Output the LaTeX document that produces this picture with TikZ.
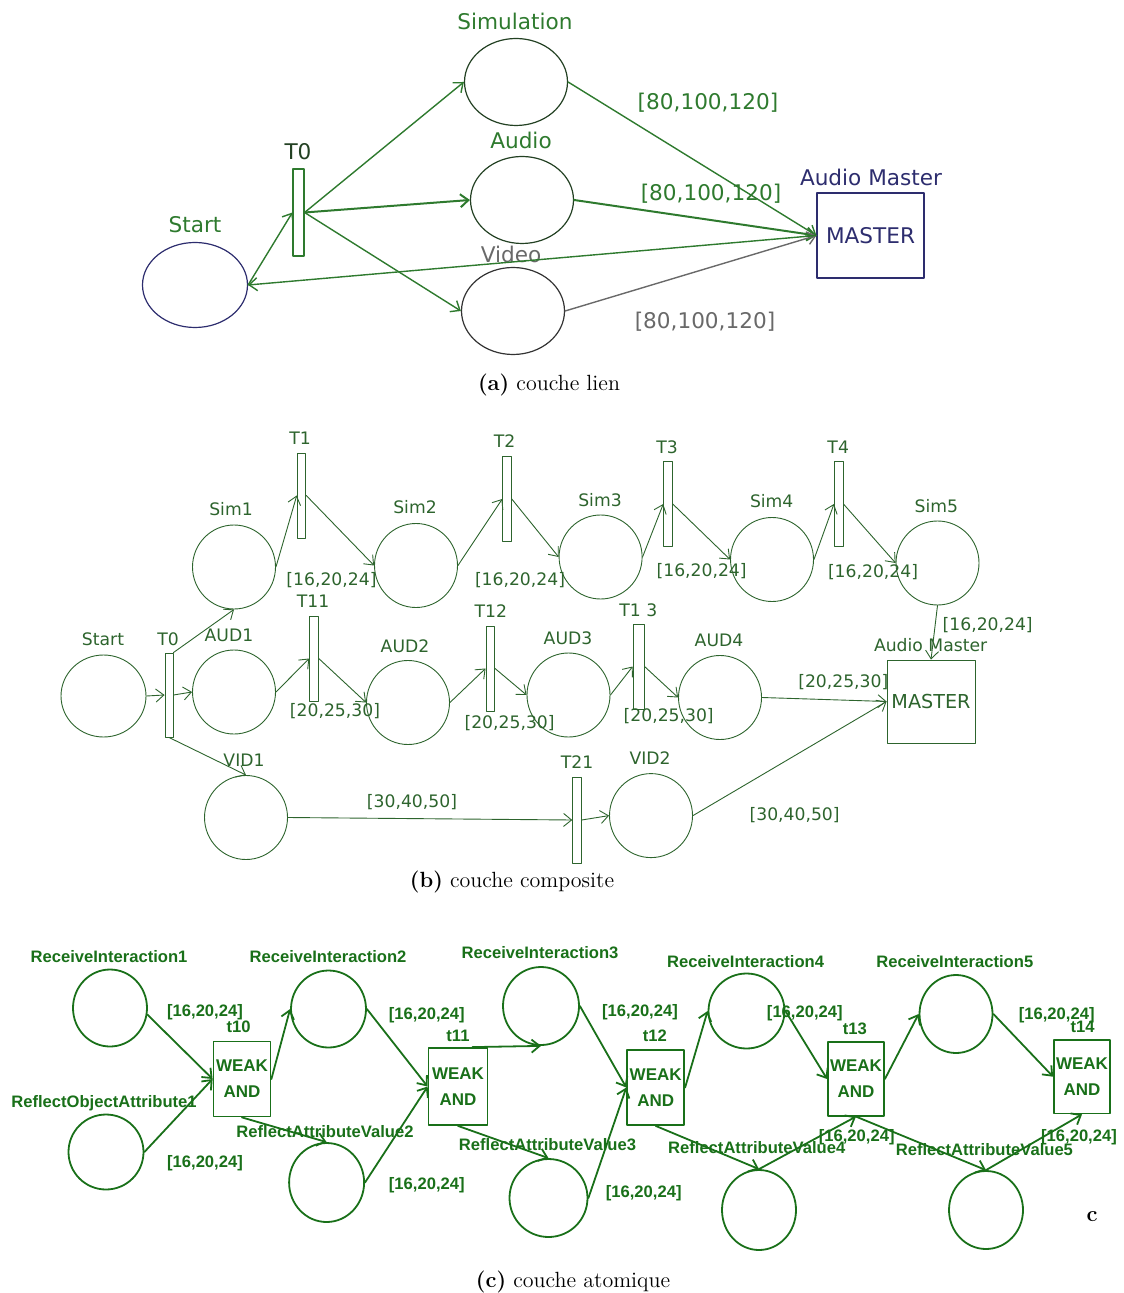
\documentclass[tikz,border=0pt]{standalone}
\usepackage{fontspec}
\usepackage{tikz}
\usetikzlibrary{arrows.meta,shapes.geometric}
\newfontfamily\lienfont{DejaVu Sans}
\newfontfamily\atomfont{Liberation Sans}
\definecolor{vertA}{RGB}{46,122,46}
\definecolor{noirA}{RGB}{35,65,35}
\definecolor{bleuA}{RGB}{45,45,110}
\definecolor{grisA}{RGB}{105,105,105}
\definecolor{vertB}{RGB}{45,100,45}
\definecolor{vertC}{RGB}{25,112,25}
\begin{document}
\begin{tikzpicture}[line cap=round,line join=round,>={Straight Barb[length=4pt,width=6.5pt]},x=0.5pt,y=-0.5pt,
  placeA/.style={ellipse,draw=noirA,line width=0.6pt,inner sep=0pt,minimum width=51.5pt,minimum height=43.5pt},
  barA/.style={rectangle,draw=vertA,line width=0.6pt,inner sep=0pt,minimum width=5.5pt,minimum height=43.5pt},
  txtA/.style={font=\lienfont\fontsize{10.8}{12}\selectfont,inner sep=0pt,text=vertA},
  arcA/.style={->,draw=vertA,line width=0.7pt},
  placeB/.style={ellipse,draw=vertB,line width=0.45pt,inner sep=0pt,minimum width=41.5pt,minimum height=42pt},
  barB/.style={rectangle,draw=vertB,line width=0.45pt,inner sep=0pt,minimum width=4.3pt,minimum height=42.5pt},
  txtB/.style={font=\lienfont\fontsize{8.6}{10}\selectfont,inner sep=0pt,text=vertB},
  arcB/.style={->,draw=vertB,line width=0.45pt},
  placeC/.style={ellipse,draw=vertC,line width=0.9pt,inner sep=0pt,minimum width=37.5pt,minimum height=38.5pt},
  boxC/.style={rectangle,draw=vertC,line width=0.9pt,inner sep=0pt,minimum width=28.5pt,minimum height=37.5pt,align=center,
    font=\atomfont\bfseries\fontsize{8.5}{13}\selectfont,text=vertC},
  txtC/.style={font=\atomfont\bfseries\fontsize{8.3}{9.5}\selectfont,inner sep=0pt,text=vertC},
  arcC/.style={->,draw=vertC,line width=0.9pt},
  legende/.style={font=\fontsize{11}{13}\selectfont,inner sep=0pt}]
\useasboundingbox (0,0) rectangle (1123,1293);

\node[placeA,draw=bleuA,minimum width=52.5pt,minimum height=42.5pt] (startA) at (195,285) {};
\node[barA] (tA) at (298.5,212.5) {};
\node[placeA] (simA) at (516,82) {};
\node[placeA] (audA) at (522,200) {};
\node[placeA,draw=black!80] (vidA) at (513,311) {};
\node[rectangle,draw=bleuA,line width=0.6pt,minimum width=53.5pt,minimum height=42.5pt,inner sep=0pt,txtA,text=bleuA] (masterA) at (870.5,235.5) {MASTER};
\node[txtA] (lstartA) at (195,225) {Start};
\node[txtA,text=noirA] (ltA) at (298,152) {T0};
\node[txtA] (lsimA) at (515,21) {Simulation};
\node[txtA] (laudA) at (521,140) {Audio};
\node[txtA,text=grisA] (lvidA) at (511,254) {Video};
\node[txtA,text=bleuA] (lmasterA) at (871,177) {Audio Master};
\node[txtA] (dsimA) at (708,103) {[80,100,120]};
\node[txtA] (daudA) at (711,194) {[80,100,120]};
\node[txtA,text=grisA] (dvidA) at (705,322) {[80,100,120]};
\draw[arcA] (startA.east) -- (tA.west);
\draw[arcA] (tA.east) -- (simA.west);
\draw[arcA,line width=1pt] (tA.east) -- (audA.west);
\draw[arcA] (tA.east) -- (vidA.west);
\draw[arcA] (simA.east) -- (masterA.west);
\draw[arcA,line width=1pt] (audA.east) -- (masterA.west);
\draw[arcA,draw=grisA] (vidA.east) -- (masterA.west);
\draw[arcA] (masterA.west) -- (startA.east);
\node[legende] (capA) at (549,385) {\textbf{(a)} couche lien};

\node[placeB,minimum width=42.5pt,minimum height=41pt] (startB) at (103.5,696) {};
\node[barB,minimum width=4pt,minimum height=42pt] (tB0) at (169,695) {};
\node[placeB] (sim1) at (234,567) {};
\node[placeB] (aud1) at (234,692) {};
\node[placeB] (vid1) at (246,817.5) {};
\node[barB] (tB1) at (301.5,495.5) {};
\node[placeB] (sim2) at (416,565.5) {};
\node[barB] (tB2) at (507,499) {};
\node[placeB] (sim3) at (600.6,557) {};
\node[barB] (tB3) at (668,504) {};
\node[placeB] (sim4) at (772,559.5) {};
\node[barB] (tB4) at (838.7,504) {};
\node[placeB] (sim5) at (937.5,563) {};
\node[barB] (tB11) at (314,658.5) {};
\node[placeB] (aud2) at (408,702.5) {};
\node[barB] (tB12) at (490.3,668.5) {};
\node[placeB] (aud3) at (568.5,695) {};
\node[barB,minimum width=5.5pt] (tB13) at (638.6,666.5) {};
\node[placeB] (aud4) at (720,697.5) {};
\node[barB,minimum height=43pt] (tB21) at (577,820) {};
\node[placeB] (vid2) at (651,815.6) {};
\node[rectangle,draw=vertB,line width=0.45pt,minimum width=44pt,minimum height=41.5pt,inner sep=0pt,txtB,font=\lienfont\fontsize{9.6}{11}\selectfont] (masterB) at (931,701.5) {MASTER};
\node[txtB] (lstartB) at (103,639) {Start};
\node[txtB] (ltB0) at (168,639) {T0};
\node[txtB] (laud1) at (229,635) {AUD1};
\node[txtB] (lsim1) at (231,509) {Sim1};
\node[txtB] (lvid1) at (244,760) {VID1};
\node[txtB] (ltB1) at (300,438) {T1};
\node[txtB] (lsim2) at (415,507) {Sim2};
\node[txtB] (ltB2) at (504.5,441) {T2};
\node[txtB] (lsim3) at (600,500) {Sim3};
\node[txtB] (ltB3) at (667,447) {T3};
\node[txtB] (lsim4) at (771.7,500.7) {Sim4};
\node[txtB] (ltB4) at (838.2,447.6) {T4};
\node[txtB] (lsim5) at (936.3,505.7) {Sim5};
\node[txtB] (ltB11) at (313,601) {T11};
\node[txtB] (laud2) at (405,646.5) {AUD2};
\node[txtB] (ltB12) at (490.8,611) {T12};
\node[txtB] (laud3) at (568,638.6) {AUD3};
\node[txtB] (ltB13) at (638.4,610) {T1 3};
\node[txtB] (laud4) at (719,640) {AUD4};
\node[txtB] (ltB21) at (577,762) {T21};
\node[txtB] (lvid2) at (650,758) {VID2};
\node[txtB] (lmasterB) at (930.6,645) {Audio Master};
\node[txtB] (ds1) at (331.5,580) {[16,20,24]};
\node[txtB] (ds2) at (520,580) {[16,20,24]};
\node[txtB] (ds3) at (701.6,571) {[16,20,24]};
\node[txtB] (ds4) at (873,572) {[16,20,24]};
\node[txtB] (ds5) at (987.7,625) {[16,20,24]};
\node[txtB] (da1) at (335,711) {[20,25,30]};
\node[txtB] (da2) at (509.6,723) {[20,25,30]};
\node[txtB] (da3) at (668.7,716) {[20,25,30]};
\node[txtB] (da4) at (843.3,682) {[20,25,30]};
\node[txtB] (dv1) at (412,802) {[30,40,50]};
\node[txtB] (dv2) at (794.6,815) {[30,40,50]};
\draw[arcB] (startB.east) -- (tB0.west);
\draw[arcB] (tB0.east) -- (aud1.west);
\draw[arcB] (tB0.north east) -- (sim1.south);
\draw[arcB] (tB0.south) -- (vid1.north);
\draw[arcB] (sim1.east) -- (tB1.west);
\draw[arcB] (tB1.east) -- (sim2.west);
\draw[arcB] (sim2.east) -- (tB2.west);
\draw[arcB] (tB2.east) -- (sim3.west);
\draw[arcB] (sim3.east) -- (tB3.west);
\draw[arcB] (tB3.east) -- (sim4.west);
\draw[arcB] (sim4.east) -- (tB4.west);
\draw[arcB] (tB4.east) -- (sim5.west);
\draw[arcB] (sim5.south) -- (masterB.north);
\draw[arcB] (aud1.east) -- (tB11.west);
\draw[arcB] (tB11.east) -- (aud2.west);
\draw[arcB] (aud2.east) -- (tB12.west);
\draw[arcB] (tB12.east) -- (aud3.west);
\draw[arcB] (aud3.east) -- (tB13.west);
\draw[arcB] (tB13.east) -- (aud4.west);
\draw[arcB] (aud4.east) -- (masterB.west);
\draw[arcB] (vid1.east) -- (tB21.west);
\draw[arcB] (tB21.east) -- (vid2.west);
\draw[arcB] (vid2.east) -- (masterB.west);
\node[legende] (capB) at (512,882) {\textbf{(b)} couche composite};

\node[placeC,minimum width=37pt] (ri1) at (110,1008) {};
\node[placeC,minimum height=37.5pt] (roa1) at (106,1152) {};
\node[boxC] (t10) at (242,1079) {WEAK\\AND};
\node[placeC] (ri2) at (328.5,1009) {};
\node[placeC,minimum height=39.5pt] (rav2) at (326.6,1182.5) {};
\node[boxC,minimum width=29.5pt,minimum height=38.5pt] (t11) at (458,1086.5) {WEAK\\AND};
\node[placeC,minimum width=38pt,minimum height=39pt] (ri3) at (541,1006) {};
\node[placeC,minimum width=39pt,minimum height=39pt] (rav3) at (548.5,1198) {};
\node[boxC] (t12) at (655.7,1087.5) {WEAK\\AND};
\node[placeC,minimum width=38pt,minimum height=37.5pt] (ri4) at (746.5,1011) {};
\node[placeC,minimum width=37pt,minimum height=40pt] (rav4) at (759,1210) {};
\node[boxC,minimum width=28pt,minimum height=36.7pt] (t13) at (856,1079) {WEAK\\AND};
\node[placeC,minimum width=36.5pt,minimum height=39pt] (ri5) at (956,1014) {};
\node[placeC,minimum width=37pt,minimum height=39pt] (rav5) at (986,1210) {};
\node[boxC,minimum width=28pt,minimum height=36.7pt] (t14) at (1082,1076.7) {WEAK\\AND};
\node[txtC] (lri1) at (109,957) {ReceiveInteraction1};
\node[txtC] (lroa1) at (104,1103) {ReflectObjectAttribute1};
\node[txtC] (lri2) at (328,957) {ReceiveInteraction2};
\node[txtC] (lrav2) at (325,1131.7) {ReflectAttributeValue2};
\node[txtC] (lri3) at (540,953) {ReceiveInteraction3};
\node[txtC] (lrav3) at (547.5,1145) {ReflectAttributeValue3};
\node[txtC] (lri4) at (745.6,961.7) {ReceiveInteraction4};
\node[txtC] (lrav4) at (756.7,1148) {ReflectAttributeValue4};
\node[txtC] (lri5) at (954.8,961.7) {ReceiveInteraction5};
\node[txtC] (lrav5) at (984.4,1150) {ReflectAttributeValue5};
\node[txtC] (lt10) at (238.6,1027) {t10};
\node[txtC] (lt11) at (458,1036) {t11};
\node[txtC] (lt12) at (654.8,1036) {t12};
\node[txtC] (lt13) at (854.8,1028.3) {t13};
\node[txtC] (lt14) at (1082.6,1027.3) {t14};
\node[txtC] (dc1) at (205,1012) {[16,20,24]};
\node[txtC] (dc2) at (205,1163) {[16,20,24]};
\node[txtC] (dc3) at (426.8,1015) {[16,20,24]};
\node[txtC] (dc4) at (426.8,1185) {[16,20,24]};
\node[txtC] (dc5) at (640,1011.7) {[16,20,24]};
\node[txtC] (dc6) at (643.7,1193) {[16,20,24]};
\node[txtC] (dc7) at (804.8,1013.3) {[16,20,24]};
\node[txtC] (dc8) at (856.7,1136.7) {[16,20,24]};
\node[txtC] (dc9) at (1056.7,1015) {[16,20,24]};
\node[txtC] (dc10) at (1079,1136.7) {[16,20,24]};
\node[inner sep=0pt,font=\bfseries\fontsize{11}{13}\selectfont] (lettre) at (1092,1217) {c};
\draw[arcC] (ri1.-10) -- (t10.west);
\draw[arcC] (roa1.east) -- (t10.west);
\draw[arcC] (t10.east) -- (ri2.west);
\draw[arcC] (t10.south) -- (rav2.north);
\draw[arcC] (ri2.east) -- (t11.west);
\draw[arcC] (rav2.east) -- (t11.west);
\draw[arcC] (t11.70) -- (ri3.south);
\draw[arcC] (t11.south) -- (rav3.north);
\draw[arcC] (ri3.east) -- (t12.west);
\draw[arcC] (rav3.east) -- (t12.west);
\draw[arcC] (t12.east) -- (ri4.west);
\draw[arcC] (t12.south) -- (rav4.north);
\draw[arcC] (ri4.east) -- (t13.west);
\draw[arcC] (rav4.north) -- (t13.south);
\draw[arcC] (t13.east) -- (ri5.west);
\draw[arcC] (t13.south) -- (rav5.north);
\draw[arcC] (ri5.east) -- (t14.west);
\draw[arcC] (rav5.north) -- (t14.south);
\node[legende] (capC) at (573,1282) {\textbf{(c)} couche atomique};
\end{tikzpicture}
\end{document}
